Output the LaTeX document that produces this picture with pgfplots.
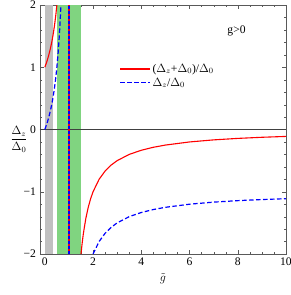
\documentclass[border=0pt]{standalone}
\usepackage{fontspec}
\setmainfont{Liberation Serif}
\usepackage{pgfplots}
\pgfplotsset{compat=1.18}
\definecolor{bandgray}{RGB}{192,192,192}
\definecolor{bandgreen}{RGB}{128,212,128}
\pgfplotsset{
  mylegline/.style={legend image code/.code={\draw[##1] (0cm,0cm) -- (1.05cm,0cm);}},
}
\begin{document}
\fontsize{11.6}{14}\selectfont
\begin{tikzpicture}[font=\fontsize{11.6}{14}\selectfont]
\begin{axis}[
  name=ax,
  scale only axis, width=246pt, height=249pt,
  xmin=-0.2, xmax=10, ymin=-2, ymax=2,
  xtick={0,2,4,6,8,10}, ytick={-2,-1,0,1,2},
  yticklabels={−2,−1,0,1,2},
  minor x tick num=3, minor y tick num=4,
  tick align=inside,
  major tick length=4pt, minor tick length=2.2pt,
  axis line style={black!65}, tick style={black!65},
  /pgf/number format/assume math mode=true,
  ticklabel style={font=\fontsize{11.6}{14}\selectfont},
  xlabel={$\tilde{g}$},
  ylabel={$\displaystyle\frac{\Delta_z}{\Delta_0}$},
  ylabel style={rotate=-90, at={(rel axis cs:0,0.46)}, anchor=center, xshift=-21pt},
  legend style={draw=none, fill=none, at={(0.31,0.78)}, anchor=north west,
    row sep=0pt, legend cell align=left, font=\fontsize{11.6}{14}\selectfont},
]
% bands
\addplot[fill=bandgray, draw=none, forget plot] coordinates {(0,-2) (0.33,-2) (0.33,2) (0,2)} -- cycle;
\addplot[fill=bandgreen, draw=none, forget plot] coordinates {(0.5,-2) (1.5,-2) (1.5,2) (0.5,2)} -- cycle;
% zero line
\addplot[black!75, line width=0.6pt, forget plot] coordinates {(-0.2,0) (10,0)};
% pole at g=1
\addplot[red, line width=1.2pt, forget plot] coordinates {(1,-2) (1,2)};
\addplot[blue, line width=1.2pt, dash pattern=on 3pt off 2pt, forget plot] coordinates {(1,-2) (1,2)};
% red branch 1
\addplot[red, line width=1.1pt, mylegline] coordinates {
(0,1) (0.05,1.0526) (0.1,1.1111) (0.15,1.1765) (0.2,1.25) (0.25,1.3333)
(0.3,1.4286) (0.35,1.5385) (0.4,1.6667) (0.45,1.8182) (0.5,2.0)};
\addlegendentry{($\Delta_z$+$\Delta_0$)/$\Delta_0$}
% blue branch 1
\addplot[blue, line width=1.2pt, dash pattern=on 4.5pt off 2.5pt, mylegline] coordinates {
(0,0) (0.05,0.0526) (0.1,0.1111) (0.15,0.1765) (0.2,0.25) (0.25,0.3333)
(0.3,0.4286) (0.35,0.5385) (0.4,0.6667) (0.45,0.8182) (0.5,1.0) (0.55,1.2222)
(0.6,1.5) (0.625,1.6667) (0.65,1.8571) (0.6667,2.0)};
\addlegendentry{$\Delta_z$/$\Delta_0$}
% red branch 2
\addplot[red, line width=1.1pt, forget plot] coordinates {
(1.5,-2) (1.55,-1.8182) (1.6,-1.6667) (1.7,-1.4286) (1.8,-1.25) (1.9,-1.1111) (2.0,-1)
(2.25,-0.8) (2.5,-0.6667) (2.75,-0.5714) (3,-0.5) (3.5,-0.4) (4,-0.3333)
(4.5,-0.2857) (5,-0.25) (6,-0.2) (7,-0.1667) (8,-0.1429) (9,-0.125) (10,-0.1111)};
% blue branch 2
\addplot[blue, line width=1.2pt, dash pattern=on 4.5pt off 2.5pt, forget plot] coordinates {
(2,-2) (2.25,-1.8) (2.5,-1.6667) (2.75,-1.5714) (3,-1.5) (3.5,-1.4) (4,-1.3333)
(4.5,-1.2857) (5,-1.25) (6,-1.2) (7,-1.1667) (8,-1.1429) (9,-1.125) (10,-1.1111)};
\node[font=\fontsize{11.6}{14}\selectfont] at (axis cs:7.95,1.58) {g>0};
\end{axis}
\pgfresetboundingbox
\path[use as bounding box] ([xshift=-40pt,yshift=-41pt]ax.south west) rectangle ([xshift=5pt,yshift=5pt]ax.north east);
\end{tikzpicture}
\end{document}
